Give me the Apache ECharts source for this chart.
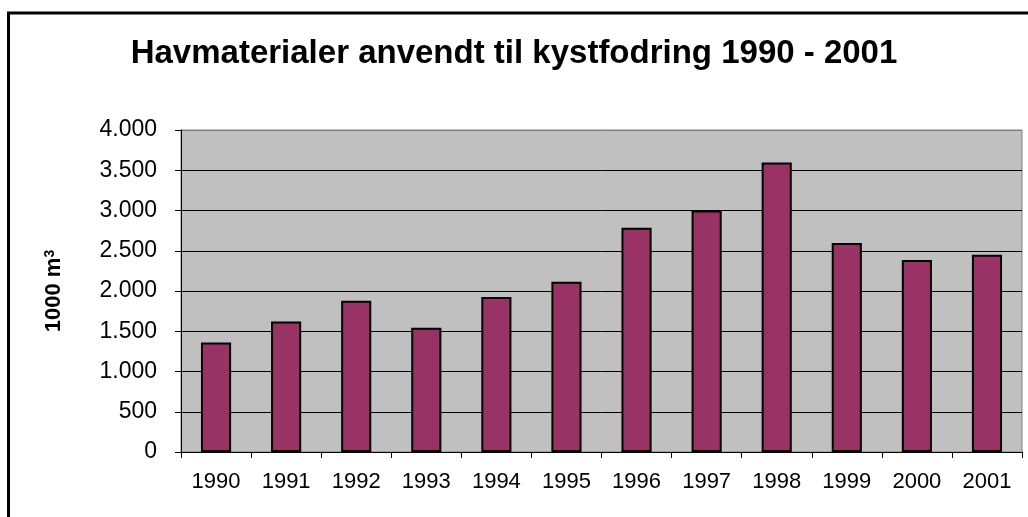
<!DOCTYPE html>
<html>
<head>
<meta charset="utf-8">
<script src="https://cdn.jsdelivr.net/npm/echarts@6/dist/echarts.min.js"></script>
<style>
html,body{margin:0;padding:0;background:#fff;}
#chart{width:1028px;height:517px;}
</style>
</head>
<body>
<div id="chart"></div>
<script>
const titleText = 'Havmaterialer anvendt til kystfodring 1990 - 2001';
const yAxisTitleMain = '1000 m';
const yAxisTitleSup = '3';
const years = ['1990','1991','1992','1993','1994','1995','1996','1997','1998','1999','2000','2001'];
const volumes = [1360, 1620, 1880, 1545, 1925, 2115, 2785, 3000, 3595, 2595, 2385, 2450];
const yTicks = [0, 500, 1000, 1500, 2000, 2500, 3000, 3500, 4000];

function fmt(v){
  return String(v).replace(/\B(?=(\d{3})+(?!\d))/g, '.');
}

const FONT = 'Liberation Sans, Arial, sans-serif';
const chart = echarts.init(document.getElementById('chart'), null, {renderer:'canvas'});
const splitColors = yTicks.map((t,i)=> i === yTicks.length-1 ? '#808080' : '#000000');
chart.setOption({
  animation:false,
  backgroundColor:'#ffffff',
  textStyle:{fontFamily:FONT},
  title:{
    text:titleText,
    left:'center',
    top:32,
    textStyle:{fontFamily:FONT,fontWeight:'bold',fontSize:33,color:'#000'}
  },
  graphic:[{
    type:'rect',
    shape:{x:8.5,y:13,width:1100,height:600},
    style:{fill:'none',stroke:'#000',lineWidth:3},
    z:100
  }],
  grid:{
    left:181, top:130, right:6, bottom:65,
    show:true, backgroundColor:'#C0C0C0', borderColor:'#808080', borderWidth:1
  },
  xAxis:{
    type:'category',
    data:years,
    axisLine:{show:true,lineStyle:{color:'#000',width:1}},
    axisTick:{show:true,length:6,alignWithLabel:false,lineStyle:{color:'#000'}},
    axisLabel:{color:'#000',fontSize:22,margin:19,fontFamily:FONT},
    splitLine:{show:false}
  },
  yAxis:{
    type:'value',
    min:yTicks[0], max:yTicks[yTicks.length-1], interval:500,
    name:'{a|' + yAxisTitleMain + '}{s|' + yAxisTitleSup + '}',
    nameLocation:'middle',
    nameRotate:90,
    nameGap:116,
    nameTextStyle:{
      fontFamily:FONT,fontWeight:'bold',fontSize:22,color:'#000',
      rich:{
        a:{fontFamily:FONT,fontWeight:'bold',fontSize:22,color:'#000'},
        s:{fontFamily:FONT,fontWeight:'bold',fontSize:14,color:'#000',verticalAlign:'top',padding:[0,0,8,0]}
      }
    },
    axisLine:{show:true,lineStyle:{color:'#000',width:1}},
    axisTick:{show:true,length:6,lineStyle:{color:'#000'}},
    axisLabel:{color:'#000',fontSize:23,margin:24,formatter:fmt,fontFamily:FONT},
    splitLine:{show:true,lineStyle:{color:splitColors,width:1}}
  },
  series:[{
    type:'bar',
    data:volumes,
    barCategoryGap:'57%',
    itemStyle:{color:'#993366',borderColor:'#000',borderWidth:2}
  }]
});
</script>
</body>
</html>
